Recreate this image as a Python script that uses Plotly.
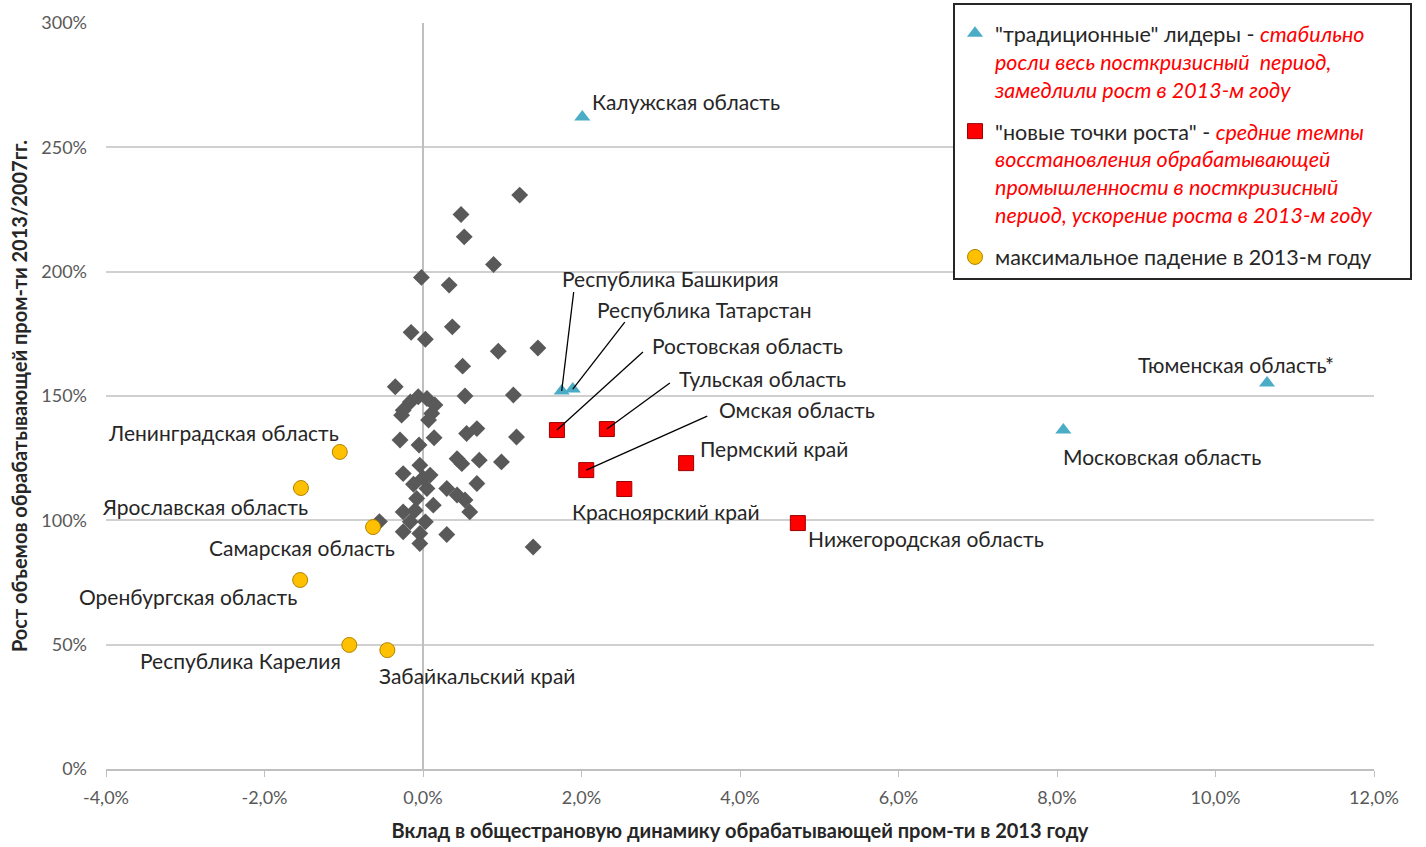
import plotly.graph_objects as go

# ---- data (x: contribution, %, y: growth 2013/2007, %) ----
other_x = [1.22, 0.48, 0.52, 0.89, -0.02, 0.33, -0.15, 0.03, 0.37, 0.95, 1.45, 0.50,
           -0.35, 0.53, 1.14, -0.25, -0.16, -0.06, 0.05, 0.15, 0.11, 0.07, -0.27,
           -0.29, -0.05, 0.14, 0.55, 0.68, 1.18, 0.43, 0.49, 0.71, 0.99, 0.68, 0.30,
           0.43, 0.53, 0.59, 0.30, 1.39, -0.25, -0.04, 0.09, 0.05, -0.08, 0.13,
           -0.25, -0.16, 0.03, -0.04, -0.55, -0.04, -0.25, -0.12, 0.00, -0.10]
other_y = [230.8, 223.0, 214.0, 202.9, 197.7, 194.6, 175.6, 172.8, 177.8, 168.0, 169.3, 162.0,
           153.7, 150.0, 150.4, 144.3, 147.6, 149.7, 149.0, 146.4, 143.0, 140.3, 142.3,
           132.3, 130.3, 133.2, 134.9, 136.9, 133.5, 124.8, 122.8, 124.2, 123.5, 114.8, 112.8,
           110.2, 108.2, 103.4, 94.3, 89.3, 118.8, 122.2, 118.2, 112.8, 108.8, 106.1,
           103.4, 99.4, 99.4, 94.7, 99.5, 90.7, 95.4, 114.5, 117.0, 104.0]

leaders_names = ["Калужская область", "Республика Башкирия", "Республика Татарстан",
                 "Тюменская область*", "Московская область"]
leaders_x = [2.01, 1.75, 1.89, 10.65, 8.08]
leaders_y = [262.2, 152.0, 152.8, 155.2, 136.3]

newgrowth_names = ["Ростовская область", "Тульская область", "Омская область",
                   "Пермский край", "Красноярский край", "Нижегородская область"]
newgrowth_x = [1.69, 2.32, 2.06, 3.32, 2.54, 4.73]
newgrowth_y = [136.3, 136.7, 120.2, 123.0, 112.6, 98.9]

fall_names = ["Ленинградская область", "Ярославская область", "Самарская область",
              "Оренбургская область", "Республика Карелия", "Забайкальский край"]
fall_x = [-1.05, -1.54, -0.63, -1.55, -0.93, -0.45]
fall_y = [127.5, 113.0, 97.3, 76.0, 49.9, 47.8]

x_ticks = [-4, -2, 0, 2, 4, 6, 8, 10, 12]
y_ticks = [0, 50, 100, 150, 200, 250, 300]

legend_texts = [
    '"традиционные" лидеры - <i><span style="color:#FF0000">стабильно</span></i><br>'
    '<i><span style="color:#FF0000">росли весь посткризисный  период,</span></i><br>'
    '<i><span style="color:#FF0000">замедлили рост в 2013-м году</span></i>',
    '"новые точки роста" - <i><span style="color:#FF0000">средние темпы</span></i><br>'
    '<i><span style="color:#FF0000">восстановления обрабатывающей</span></i><br>'
    '<i><span style="color:#FF0000">промышленности в посткризисный</span></i><br>'
    '<i><span style="color:#FF0000">период, ускорение роста в 2013-м году</span></i>'
    '&nbsp;&nbsp;&nbsp;&nbsp;&nbsp;&nbsp;',
    'максимальное падение в 2013-м году',
]

x_title = "Вклад в общестрановую динамику обрабатывающей пром-ти в 2013 году"
y_title = "Рост объемов обрабатывающей пром-ти 2013/2007гг."

FONT = "Lato"

fig = go.Figure()
fig.add_trace(go.Scatter(x=other_x, y=other_y, mode="markers", showlegend=False,
                         marker=dict(symbol="diamond", size=13, color="#595959"),
                         hoverinfo="skip"))
fig.add_trace(go.Scatter(x=leaders_x, y=leaders_y, mode="markers", name=legend_texts[0],
                         text=leaders_names, legendgroup="a",
                         marker=dict(symbol="triangle-up", size=14, color="#4BACC6",
                                     line=dict(width=0))))
fig.add_trace(go.Scatter(x=newgrowth_x, y=newgrowth_y, mode="markers", name=legend_texts[1],
                         text=newgrowth_names, legendgroup="b",
                         marker=dict(symbol="square", size=15, color="#FF0000",
                                     line=dict(width=1, color="#9C0000"))))
fig.add_trace(go.Scatter(x=fall_x, y=fall_y, mode="markers", name=legend_texts[2],
                         text=fall_names, legendgroup="c",
                         marker=dict(symbol="circle", size=15, color="#FFC000",
                                     line=dict(width=1, color="#B08400"))))

# label offsets in pixels relative to each point: (xshift, yshift, xanchor)
label_offsets = {
    "Калужская область": (8, 16, "left"),
    "Республика Башкирия": (-2, 113, "left"),
    "Республика Татарстан": (22, 80, "left"),
    "Тюменская область*": (69, 19, "right"),
    "Московская область": (-2, -26, "left"),
    "Ростовская область": (93, 85, "left"),
    "Тульская область": (70, 51, "left"),
    "Омская область": (131, 61, "left"),
    "Пермский край": (12, 15, "left"),
    "Красноярский край": (-54, -22, "left"),
    "Нижегородская область": (8, -15, "left"),
    "Ленинградская область": (1, 19, "right"),
    "Ярославская область": (9, -18, "right"),
    "Самарская область": (24, -20, "right"),
    "Оренбургская область": (-1, -16, "right"),
    "Республика Карелия": (-6, -16, "right"),
    "Забайкальский край": (-10, -25, "left"),
}
# leader lines (pixel offsets of the line end from the point)
leader_lines = {
    "Республика Башкирия": (12, 99),
    "Республика Татарстан": (52, 67),
    "Ростовская область": (86, 78),
    "Тульская область": (63, 46),
    "Омская область": (121, 54),
}

for names, xs, ys in [(leaders_names, leaders_x, leaders_y),
                      (newgrowth_names, newgrowth_x, newgrowth_y),
                      (fall_names, fall_x, fall_y)]:
    for n, x, y in zip(names, xs, ys):
        dx, dy, anc = label_offsets[n]
        fig.add_annotation(x=x, y=y, text=n, showarrow=False, xanchor=anc, yanchor="middle",
                           xshift=dx, yshift=dy,
                           font=dict(family=FONT, size=21, color="#262626"))
        if n in leader_lines:
            lx, ly = leader_lines[n]
            fig.add_shape(type="line", xref="x", yref="y", xsizemode="pixel", ysizemode="pixel",
                          xanchor=x, yanchor=y, x0=0, y0=0, x1=lx, y1=ly,
                          line=dict(color="#000000", width=1.3), layer="above")

fig.update_layout(
    width=1426, height=847,
    margin=dict(l=106, r=52, t=23, b=78, autoexpand=False),
    paper_bgcolor="white", plot_bgcolor="white",
    separators=", ",
    font=dict(family=FONT, color="#595959"),
    showlegend=True,
    legend=dict(x=(953 - 106) / 1268, xanchor="left", y=(769 - 3) / 746, yanchor="top",
                bgcolor="white", bordercolor="#262626", borderwidth=2,
                font=dict(family=FONT, size=21.5, color="#262626"),
                title=dict(text="&nbsp;", font=dict(size=6)),
                valign="top", traceorder="grouped", tracegroupgap=11,
                itemsizing="trace"),
    xaxis=dict(range=[-4, 12], tickvals=x_ticks, ticktext=[f"{v:.1f}%".replace(".", ",") for v in x_ticks],
               showgrid=False, zeroline=True, zerolinecolor="#BFBFBF", zerolinewidth=1.5,
               showline=True, linecolor="#BFBFBF", linewidth=1.5,
               ticks="outside", ticklen=6, tickcolor="#BFBFBF", ticklabelstandoff=6,
               tickfont=dict(family=FONT, size=18, color="#595959"),
               title=dict(text=f"<b>{x_title}</b>", standoff=17,
                          font=dict(family=FONT, size=20, color="#262626"))),
    yaxis=dict(range=[0, 300], tickvals=y_ticks, ticktext=[f"{v}%" for v in y_ticks],
               showgrid=True, gridcolor="#D0D0D0", gridwidth=1.5, zeroline=False,
               showline=False, ticks="", ticklabelstandoff=18,
               tickfont=dict(family=FONT, size=18, color="#595959"),
               title=dict(text=f"<b>{y_title}</b>", standoff=8,
                          font=dict(family=FONT, size=20, color="#262626"))),
)

fig.write_html("out.html", config={"displayModeBar": False},
               post_script="document.body.style.margin='0';")
